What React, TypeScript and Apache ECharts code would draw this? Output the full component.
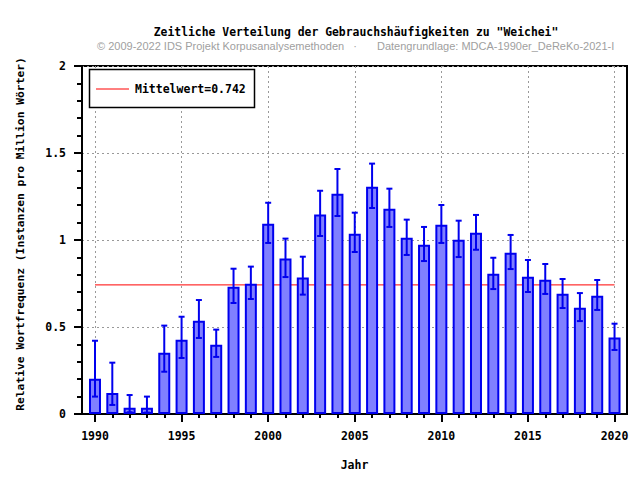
import React, { useEffect, useRef } from "react";
import * as echarts from "echarts";

const years = [1990, 1991, 1992, 1993, 1994, 1995, 1996, 1997, 1998, 1999, 2000, 2001, 2002, 2003, 2004, 2005, 2006, 2007, 2008, 2009, 2010, 2011, 2012, 2013, 2014, 2015, 2016, 2017, 2018, 2019, 2020];
const values = [0.203, 0.121, 0.036, 0.036, 0.352, 0.427, 0.536, 0.398, 0.732, 0.749, 1.094, 0.893, 0.785, 1.146, 1.266, 1.036, 1.306, 1.180, 1.013, 0.973, 1.088, 1.002, 1.042, 0.806, 0.927, 0.789, 0.772, 0.691, 0.611, 0.680, 0.439];
const lower = [0.100, 0.052, 0.010, 0.008, 0.243, 0.322, 0.437, 0.328, 0.638, 0.661, 0.983, 0.787, 0.686, 1.023, 1.138, 0.931, 1.184, 1.075, 0.914, 0.879, 0.983, 0.902, 0.944, 0.718, 0.833, 0.701, 0.690, 0.609, 0.534, 0.598, 0.368];
const upper = [0.421, 0.295, 0.109, 0.100, 0.508, 0.559, 0.655, 0.485, 0.835, 0.847, 1.214, 1.008, 0.904, 1.283, 1.408, 1.157, 1.439, 1.295, 1.117, 1.075, 1.201, 1.111, 1.144, 0.898, 1.029, 0.885, 0.862, 0.776, 0.695, 0.770, 0.519];
const majorYears = [1990, 1995, 2000, 2005, 2010, 2015, 2020];
const meanValue = 0.742;

const titleText = 'Zeitliche Verteilung der Gebrauchshäufigkeiten zu "Weichei"';
const subLeft = "© 2009-2022 IDS Projekt Korpusanalysemethoden";
const subDot = "·";
const subRight = "Datengrundlage: MDCA-1990er_DeReKo-2021-I";
const yAxisTitle = "Relative Wortfrequenz (Instanzen pro Million Wörter)";
const xAxisTitle = "Jahr";
const legendText = "Mittelwert=" + meanValue.toFixed(3);

const MONO = "'DejaVu Sans Mono', monospace";
const BLUE = "#0000ee";

export default function App() {
  const ref = useRef<HTMLDivElement>(null);
  useEffect(() => {
    if (!ref.current) return;
    const chart = echarts.init(ref.current, undefined, { renderer: "svg" });
    const xMin = 1989.25;
    const xMax = 2020.72;
    const gridLine = { show: true, lineStyle: { color: "#999", type: [2, 3] as any, width: 1 } };
    const option: any = {
      animation: false,
      backgroundColor: "#fff",
      grid: {
        left: 82, top: 66, width: 545, height: 348,
        show: true, borderColor: "#000", borderWidth: 2, backgroundColor: "transparent",
        containLabel: false,
      },
      xAxis: [
        {
          type: "value", min: xMin, max: xMax, position: "bottom",
          name: xAxisTitle, nameLocation: "middle", nameGap: 45,
          nameTextStyle: { fontFamily: MONO, fontWeight: "bold", fontSize: 11.5, color: "#000" },
          axisLine: { show: true, lineStyle: { color: "#000", width: 2 } },
          axisTick: { show: true, customValues: majorYears, length: 8, lineStyle: { color: "#000", width: 2 } },
          axisLabel: { customValues: majorYears, margin: 16, fontFamily: MONO, fontWeight: "bold", fontSize: 11.5, color: "#000", formatter: (v: number) => String(v) },
          splitLine: gridLine,
        },
        {
          type: "value", min: xMin, max: xMax, position: "bottom", gridIndex: 0,
          axisLine: { show: false },
          axisTick: { show: true, customValues: years, length: 4, lineStyle: { color: "#000", width: 2 } },
          axisLabel: { show: false },
          splitLine: { show: false },
        },
      ],
      yAxis: {
        type: "value", min: 0, max: 2, interval: 0.5,
        axisLine: { show: true, lineStyle: { color: "#000", width: 2 } },
        axisTick: { show: true, length: 8, lineStyle: { color: "#000", width: 2 } },
        minorTick: { show: true, splitNumber: 5, length: 5, lineStyle: { color: "#000", width: 2 } },
        axisLabel: { margin: 16, fontFamily: MONO, fontWeight: "bold", fontSize: 11.5, color: "#000", formatter: (v: number) => String(v) },
        splitLine: gridLine,
      },
      graphic: [
        { type: "text", x: 356, y: 32, style: { text: titleText, font: `bold 11.4px ${MONO}`, fill: "#000", textAlign: "center", textVerticalAlign: "middle" } },
        { type: "text", x: 97, y: 46, style: { text: subLeft, font: "11px 'Liberation Sans', Arial, sans-serif", fill: "#a0a0a0", textAlign: "left", textVerticalAlign: "middle" } },
        { type: "text", x: 355, y: 46, style: { text: subDot, font: "11px 'Liberation Sans', Arial, sans-serif", fill: "#a0a0a0", textAlign: "center", textVerticalAlign: "middle" } },
        { type: "text", x: 377, y: 46, style: { text: subRight, font: "11px 'Liberation Sans', Arial, sans-serif", fill: "#a0a0a0", textAlign: "left", textVerticalAlign: "middle" } },
        { type: "text", x: 20, y: 234, rotation: Math.PI / 2, style: { text: yAxisTitle, font: `bold 11.3px ${MONO}`, fill: "#000", textAlign: "center", textVerticalAlign: "middle" } },
        { type: "rect", shape: { x: 89.5, y: 69.5, width: 165, height: 38 }, style: { fill: "#fff", stroke: "#000", lineWidth: 1.5 }, z: 100 },
        { type: "line", shape: { x1: 96, y1: 89, x2: 129, y2: 89 }, style: { stroke: "#ff0000", lineWidth: 1 }, z: 101 },
        { type: "text", x: 135, y: 89, style: { text: legendText, font: `bold 11.5px ${MONO}`, fill: "#000", textAlign: "left", textVerticalAlign: "middle" }, z: 101 },
      ],
      series: [
        {
          type: "line", xAxisIndex: 0, z: 1, symbol: "none", silent: true,
          lineStyle: { color: "#ff0000", width: 1 },
          data: [[majorYears[0], meanValue], [majorYears[majorYears.length - 1], meanValue]],
        },
        {
          type: "bar", xAxisIndex: 0, z: 2, barWidth: 12,
          itemStyle: { color: "#8080ff", borderColor: BLUE, borderWidth: 2 },
          data: years.map((y, i) => [y, values[i]]),
        },
        {
          type: "custom", xAxisIndex: 0, z: 3,
          encode: { x: 0, y: [1, 2] },
          data: years.map((y, i) => [y, lower[i], upper[i]]),
          renderItem: (params: any, api: any) => {
            const x = api.value(0);
            const lo = api.coord([x, api.value(1)]);
            const hi = api.coord([x, api.value(2)]);
            const w = 3;
            const st = { stroke: BLUE, lineWidth: 2 };
            return {
              type: "group",
              children: [
                { type: "line", shape: { x1: lo[0], y1: lo[1], x2: hi[0], y2: hi[1] }, style: st },
                { type: "line", shape: { x1: lo[0] - w, y1: lo[1], x2: lo[0] + w, y2: lo[1] }, style: st },
                { type: "line", shape: { x1: hi[0] - w, y1: hi[1], x2: hi[0] + w, y2: hi[1] }, style: st },
              ],
            };
          },
        },
      ],
    };
    chart.setOption(option);
    return () => chart.dispose();
  }, []);
  return <div ref={ref} style={{ position: "fixed", left: 0, top: 0, width: 640, height: 480 }} />;
}
